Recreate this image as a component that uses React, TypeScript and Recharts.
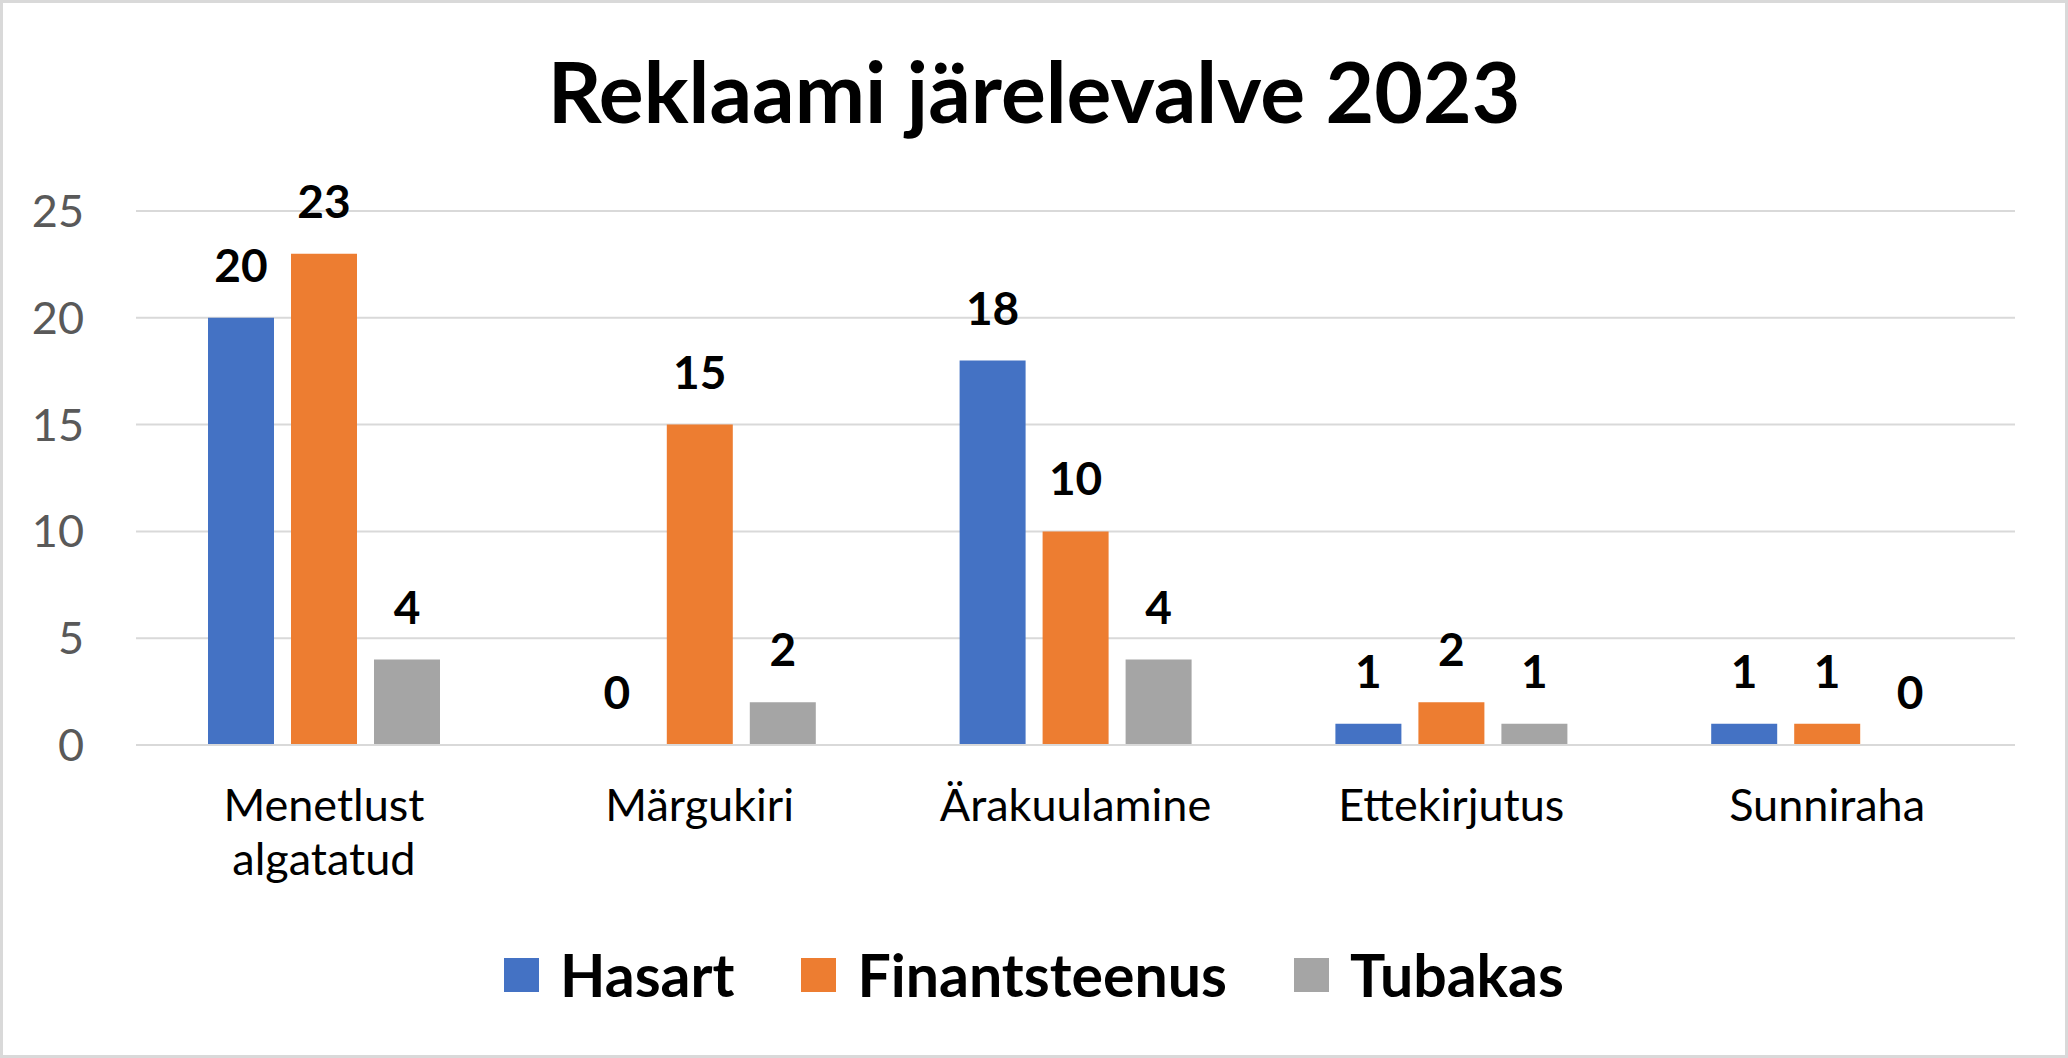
import { BarChart, Bar, XAxis, YAxis, CartesianGrid, LabelList } from "recharts";

const categories = ["Menetlust algatatud", "Märgukiri", "Ärakuulamine", "Ettekirjutus", "Sunniraha"];
const hasart = [20, 0, 18, 1, 1];
const finantsteenus = [23, 15, 10, 2, 1];
const tubakas = [4, 2, 4, 1, 0];
const yTicks = [0, 5, 10, 15, 20, 25];

const series = [
  { key: "hasart", name: "Hasart", color: "#4472C4" },
  { key: "finantsteenus", name: "Finantsteenus", color: "#ED7D31" },
  { key: "tubakas", name: "Tubakas", color: "#A5A5A5" },
];

const data = categories.map((c, i) => ({
  category: c,
  hasart: hasart[i],
  finantsteenus: finantsteenus[i],
  tubakas: tubakas[i],
}));

const FONT = "Lato, 'Open Sans', sans-serif";

// Excel wraps long category names onto two lines
const CategoryTick = ({ x, y, payload }: any) => {
  const value: string = payload.value;
  const lines = value.length > 14 ? value.split(" ") : [value];
  return (
    <text x={x} y={y} textAnchor="middle" fontSize={45} fontFamily={FONT} fill="#000">
      {lines.map((l, i) => (
        <tspan key={i} x={x} dy={i === 0 ? 76 : 54}>
          {l}
        </tspan>
      ))}
    </text>
  );
};

const App = () => {
  return (
    <div
      style={{
        position: "fixed",
        top: 0,
        left: 0,
        width: 2068,
        height: 1058,
        background: "#fff",
        fontFamily: FONT,
      }}
    >
      <BarChart
        width={2068}
        height={1058}
        data={data}
        margin={{ top: 211, right: 53, bottom: 173, left: 0 }}
        barSize={66}
        barGap={17}
      >
        <CartesianGrid vertical={false} stroke="#D9D9D9" strokeWidth={2} />
        <XAxis
          dataKey="category"
          height={140}
          tick={<CategoryTick />}
          tickLine={false}
          tickSize={0}
          tickMargin={0}
          axisLine={{ stroke: "#D9D9D9", strokeWidth: 2 }}
          interval={0}
        />
        <YAxis
          width={136}
          domain={[0, 25]}
          ticks={yTicks}
          axisLine={false}
          tickLine={false}
          tickSize={0}
          tickMargin={52}
          tick={{ fontSize: 45, fill: "#595959", fontFamily: FONT }}
        />
        {series.map((s) => (
          <Bar
            key={s.key}
            dataKey={s.key}
            name={s.name}
            fill={s.color}
            minPointSize={0.01}
            isAnimationActive={false}
          >
            <LabelList
              dataKey={s.key}
              position="top"
              offset={36}
              style={{ fontSize: 46, fontWeight: 700, fill: "#000", fontFamily: FONT }}
            />
          </Bar>
        ))}
      </BarChart>

      <svg
        width={2068}
        height={160}
        style={{ position: "absolute", top: 0, left: 0, pointerEvents: "none" }}
      >
        <text x={1034} y={123} textAnchor="middle" fontSize={84} fontWeight={700} fontFamily={FONT} fill="#000">
          Reklaami järelevalve 2023
        </text>
      </svg>

      <div
        style={{
          position: "absolute",
          top: 940,
          left: 0,
          width: 2068,
          height: 70,
          display: "flex",
          justifyContent: "center",
          alignItems: "center",
          gap: 67,
        }}
      >
        {series.map((s) => (
          <div key={s.key} style={{ display: "flex", alignItems: "center", gap: 21 }}>
            <div style={{ width: 35, height: 34, background: s.color }} />
            <span style={{ fontSize: 59, fontWeight: 700, color: "#000", lineHeight: "70px" }}>{s.name}</span>
          </div>
        ))}
      </div>

      <div
        style={{
          position: "absolute",
          inset: 0,
          border: "3px solid #D9D9D9",
          pointerEvents: "none",
        }}
      />
    </div>
  );
};

export default App;
